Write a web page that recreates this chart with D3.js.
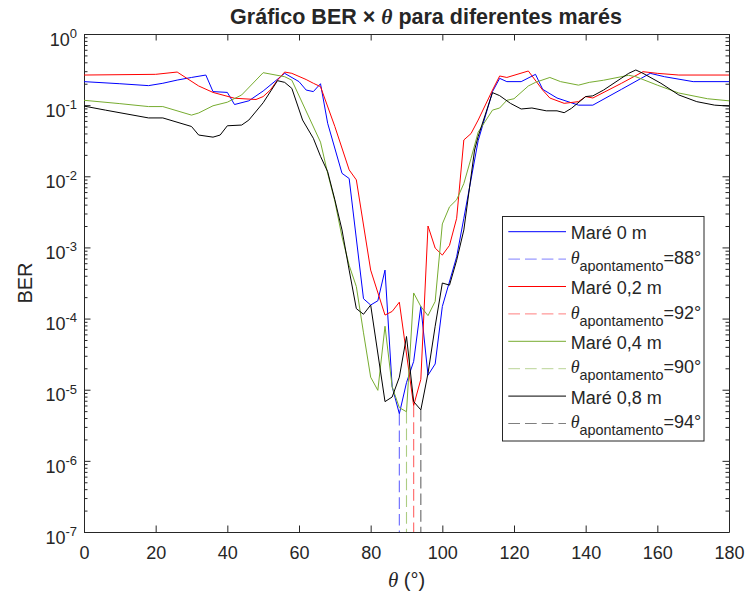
<!DOCTYPE html>
<html>
<head>
<meta charset="utf-8">
<script src="https://cdn.jsdelivr.net/npm/d3@7"></script>
<style>
  body { margin: 0; background: #fff; }
  text { font-family: "Liberation Sans", Arial, Helvetica, sans-serif; fill: #262626; }
</style>
</head>
<body>
<svg id="chart" width="748" height="596"></svg>
<script>
// BER versus angle for four tide levels (theta in degrees)
const thetaMare0 = [0, 10, 18, 22, 26, 30, 34, 36, 40, 42, 46, 50, 56, 60, 62, 64, 66, 68, 72, 74, 78, 80, 82, 84, 86, 88, 90, 92, 94, 96, 98, 100, 104, 106, 110, 114, 116, 118, 122, 126, 128, 132, 138, 142, 150, 158, 162, 170, 180];
const berMare0   = [0.214, 0.2, 0.188, 0.203, 0.225, 0.245, 0.265, 0.155, 0.151, 0.102, 0.115, 0.158, 0.280, 0.214, 0.163, 0.155, 0.2, 0.0556, 0.011, 0.0093, 1.9e-4, 1.55e-4, 1.78e-4, 4.8e-4, 1.1e-5, 4.6e-6, 1.26e-5, 2.5e-5, 1.48e-4, 1.6e-5, 2.3e-5, 1.48e-4, 7.4e-4, 2.57e-3, 0.0316, 0.155, 0.238, 0.214, 0.214, 0.271, 0.167, 0.126, 0.1, 0.1, 0.167, 0.280, 0.251, 0.214, 0.214];

const thetaMare02 = [0, 20, 26, 32, 36, 42, 48, 50, 52, 54, 56, 58, 62, 64, 66, 70, 74, 76, 80, 84, 86, 88, 92, 94, 96, 98, 100, 102, 104, 106, 108, 110, 114, 116, 118, 124, 128, 130, 134, 138, 140, 142, 150, 156, 160, 166, 180];
const berMare02   = [0.265, 0.271, 0.292, 0.186, 0.151, 0.125, 0.120, 0.132, 0.163, 0.225, 0.292, 0.280, 0.229, 0.203, 0.182, 0.0501, 0.0123, 0.0089, 4.8e-4, 1.12e-4, 1.26e-4, 1.7e-4, 6.0e-6, 1.4e-5, 2.0e-3, 9.8e-4, 7.8e-4, 1.07e-3, 2.57e-3, 0.0324, 0.0398, 0.0617, 0.163, 0.257, 0.245, 0.302, 0.163, 0.126, 0.106, 0.112, 0.132, 0.126, 0.203, 0.295, 0.280, 0.265, 0.265];

const thetaMare04 = [0, 10, 18, 22, 30, 32, 36, 40, 44, 50, 56, 58, 66, 68, 70, 72, 74, 76, 78, 80, 82, 84, 86, 88, 90, 92, 94, 96, 98, 100, 102, 104, 106, 108, 110, 114, 116, 118, 120, 124, 126, 130, 133, 138, 141, 145, 152, 154, 160, 166, 174, 180];
const berMare04   = [0.117, 0.105, 0.0955, 0.0955, 0.0724, 0.0776, 0.098, 0.110, 0.139, 0.286, 0.251, 0.224, 0.0302, 0.011, 0.00447, 0.00141, 5.6e-4, 2.82e-4, 6.3e-5, 1.5e-5, 9.8e-6, 7.8e-5, 1.1e-5, 5.6e-6, 4.9e-6, 2.29e-4, 1.48e-4, 1.1e-4, 1.74e-4, 2.14e-3, 3.72e-3, 4.68e-3, 7.9e-3, 0.0178, 0.0417, 0.0851, 0.0912, 0.117, 0.123, 0.186, 0.209, 0.245, 0.214, 0.191, 0.209, 0.224, 0.263, 0.251, 0.191, 0.148, 0.123, 0.115];

const thetaMare08 = [0, 6, 18, 22, 30, 32, 36, 38, 40, 44, 46, 50, 54, 56, 58, 61, 64, 66, 68, 70, 72, 74, 76, 78, 80, 84, 86, 88, 90, 92, 94, 96, 98, 100, 102, 104, 106, 109, 110, 114, 116, 119, 122, 125, 129, 132, 134, 136, 140, 142, 145, 152, 154, 156, 161, 166, 171, 176, 180];
const berMare08   = [0.097, 0.0851, 0.0661, 0.0661, 0.0501, 0.038, 0.0355, 0.038, 0.0513, 0.0525, 0.0617, 0.108, 0.221, 0.209, 0.172, 0.0617, 0.0342, 0.0191, 0.0116, 0.00468, 0.00176, 4.8e-4, 1.38e-4, 1.15e-4, 1.55e-4, 6.8e-6, 7.9e-6, 1.5e-5, 5.6e-5, 6.8e-6, 5.2e-6, 1.7e-5, 7.8e-5, 3.16e-4, 2.95e-4, 6.6e-4, 1.76e-3, 0.0234, 0.0363, 0.150, 0.136, 0.106, 0.0883, 0.0912, 0.0832, 0.0832, 0.0783, 0.090, 0.132, 0.135, 0.163, 0.280, 0.312, 0.280, 0.203, 0.139, 0.112, 0.1, 0.097];

const tideLabels   = ["Maré 0 m", "Maré 0,2 m", "Maré 0,4 m", "Maré 0,8 m"];
const pointingDeg  = [88, 92, 90, 94];
const seriesColors = ["#0000ff", "#ff0000", "#77ac30", "#000000"];
const xTickValues  = [0, 20, 40, 60, 80, 100, 120, 140, 160, 180];
const yExponents   = [0, -1, -2, -3, -4, -5, -6, -7];

const series = [
  { theta: thetaMare0,  ber: berMare0 },
  { theta: thetaMare02, ber: berMare02 },
  { theta: thetaMare04, ber: berMare04 },
  { theta: thetaMare08, ber: berMare08 }
].map((s, i) => ({
  ...s,
  name: tideLabels[i],
  color: seriesColors[i],
  pointing: pointingDeg[i],
  points: s.theta.map((t, j) => [t, s.ber[j]])
}));

const W = 748, H = 596;
const margin = { left: 84, right: 19, top: 34, bottom: 64 };
const axisColor = "#262626";
const tickFont = 18, labelFont = 20, titleFont = 21.5, legendFont = 18;
const serif = "'Liberation Serif', 'DejaVu Serif', serif";
const sans = "'Liberation Sans', Arial, sans-serif";
const svg = d3.select("#chart");

const x = d3.scaleLinear().domain([0, 180]).range([margin.left, W - margin.right]);
const y = d3.scaleLog().domain([1e-7, 1]).range([H - margin.bottom, margin.top]);

const majorY = yExponents.map(e => Math.pow(10, e));
const minorY = [];
for (let e = -7; e < 0; e++) for (let m = 2; m <= 9; m++) minorY.push(m * Math.pow(10, e));

const majorLen = 6.5, minorLen = 3.5;

function styleAxis(g) {
  g.selectAll("path.domain").attr("stroke", axisColor);
  g.selectAll(".tick line").attr("stroke", axisColor);
}

// Bottom axis with labels
const gBottom = svg.append("g")
  .attr("transform", `translate(0,${H - margin.bottom})`)
  .call(d3.axisBottom(x).tickValues(xTickValues).tickSizeInner(-majorLen).tickSizeOuter(0).tickPadding(14).tickFormat(d3.format("d")))
  .call(styleAxis);
gBottom.selectAll("text").attr("font-size", tickFont).attr("fill", axisColor).style("font-family", sans);

// Top axis (ticks only)
svg.append("g")
  .attr("transform", `translate(0,${margin.top})`)
  .call(d3.axisTop(x).tickValues(xTickValues).tickSizeInner(-majorLen).tickSizeOuter(0).tickFormat(() => ""))
  .call(styleAxis);

// Left axis: decades with power-of-ten labels
const gLeft = svg.append("g")
  .attr("transform", `translate(${margin.left},0)`)
  .call(d3.axisLeft(y).tickValues(majorY).tickSizeInner(-majorLen).tickSizeOuter(0).tickPadding(7).tickFormat(() => ""))
  .call(styleAxis);
gLeft.selectAll(".tick text").each(function(d) {
  const t = d3.select(this).attr("font-size", tickFont).attr("dy", "0.62em").attr("fill", axisColor).style("font-family", sans);
  t.text(null);
  t.append("tspan").text("10");
  t.append("tspan").attr("dy", "-0.6em").attr("font-size", 13).text(String(Math.round(Math.log10(d))));
});
svg.append("g")
  .attr("transform", `translate(${margin.left},0)`)
  .call(d3.axisLeft(y).tickValues(minorY).tickSizeInner(-minorLen).tickSizeOuter(0).tickFormat(() => ""))
  .call(g => g.select("path.domain").remove())
  .call(styleAxis);

// Right axis (ticks only)
svg.append("g")
  .attr("transform", `translate(${W - margin.right},0)`)
  .call(d3.axisRight(y).tickValues(majorY).tickSizeInner(-majorLen).tickSizeOuter(0).tickFormat(() => ""))
  .call(styleAxis);
svg.append("g")
  .attr("transform", `translate(${W - margin.right},0)`)
  .call(d3.axisRight(y).tickValues(minorY).tickSizeInner(-minorLen).tickSizeOuter(0).tickFormat(() => ""))
  .call(g => g.select("path.domain").remove())
  .call(styleAxis);

// Curves and pointing-angle markers
const line = d3.line().x(d => x(d[0])).y(d => y(d[1]));
const berAt = (s, t) => s.ber[s.theta.indexOf(t)];
const dashPattern = "11.7,5";

const plot = svg.append("g");
series.forEach(s => {
  plot.append("path")
    .datum(s.points)
    .attr("fill", "none")
    .attr("stroke", s.color)
    .attr("stroke-width", 1)
    .attr("stroke-linejoin", "round")
    .attr("d", line);
  plot.append("path")
    .datum([[s.pointing, berAt(s, s.pointing)], [s.pointing, 1e-7]])
    .attr("fill", "none")
    .attr("stroke", s.color)
    .attr("stroke-opacity", 0.6)
    .attr("stroke-width", 1.1)
    .attr("stroke-dasharray", dashPattern)
    .attr("d", line);
});

// Title
const title = svg.append("text")
  .attr("x", 426)
  .attr("y", 24)
  .attr("text-anchor", "middle")
  .attr("font-size", titleFont)
  .attr("font-weight", "bold");
title.append("tspan").text("Gráfico BER × ");
title.append("tspan").style("font-family", serif).attr("font-style", "italic").text("θ");
title.append("tspan").text(" para diferentes marés");

// Axis labels
const xlab = svg.append("text")
  .attr("x", (x.range()[0] + x.range()[1]) / 2)
  .attr("y", 587)
  .attr("text-anchor", "middle")
  .attr("font-size", labelFont);
xlab.append("tspan").style("font-family", serif).attr("font-style", "italic").attr("font-size", 21).text("θ");
xlab.append("tspan").text(" (°)");

svg.append("text")
  .attr("transform", `translate(32,${(y.range()[0] + y.range()[1]) / 2}) rotate(-90)`)
  .attr("text-anchor", "middle")
  .attr("font-size", labelFont)
  .text("BER");

// Legend
const legendBox = { x: 502.5, y: 216.5, w: 201.5, h: 224.5 };
const legend = svg.append("g");
legend.append("rect")
  .attr("x", legendBox.x).attr("y", legendBox.y)
  .attr("width", legendBox.w).attr("height", legendBox.h)
  .attr("fill", "#fff").attr("stroke", axisColor).attr("stroke-width", 1);

const rowStep = 27.4, firstRow = 231.7;
const sampleX0 = 508.3, sampleX1 = 566, textX = 570.7;
series.forEach((s, i) => {
  const ySolid = firstRow + rowStep * (2 * i);
  const yDash = firstRow + rowStep * (2 * i + 1);
  legend.append("line")
    .attr("x1", sampleX0).attr("x2", sampleX1).attr("y1", ySolid).attr("y2", ySolid)
    .attr("stroke", s.color).attr("stroke-width", 1);
  legend.append("text")
    .attr("x", textX).attr("y", ySolid + 7.6)
    .attr("font-size", legendFont).attr("fill", "#000")
    .text(s.name);
  legend.append("line")
    .attr("x1", sampleX0).attr("x2", sampleX1).attr("y1", yDash).attr("y2", yDash)
    .attr("stroke", s.color).attr("stroke-opacity", 0.5).attr("stroke-width", 1)
    .attr("stroke-dasharray", dashPattern);
  const t = legend.append("text")
    .attr("x", textX).attr("y", yDash + 4.7)
    .attr("font-size", legendFont).attr("fill", "#000");
  t.append("tspan").style("font-family", serif).attr("font-style", "italic").text("θ");
  t.append("tspan").attr("dy", 7).attr("font-size", 14.4).text("apontamento");
  t.append("tspan").attr("dy", -7).text(`=${s.pointing}°`);
});
</script>
</body>
</html>
